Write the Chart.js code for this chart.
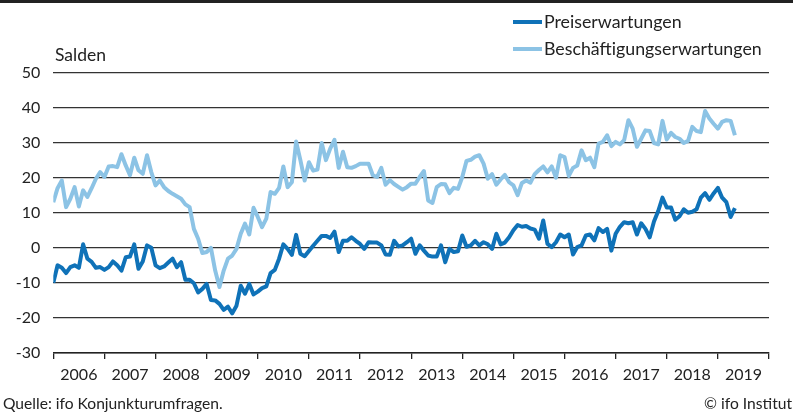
<!DOCTYPE html>
<html>
<head>
<meta charset="utf-8">
<script src="https://cdn.jsdelivr.net/npm/chart.js@4.4.1/dist/chart.umd.min.js"></script>
<style>
  html, body { margin: 0; padding: 0; background: #fff; }
  #wrap { width: 797px; height: 414px; }
</style>
</head>
<body>
<div id="wrap"><canvas id="grafik" width="797" height="414"></canvas></div>
<script>
// Monatswerte Jan 2006 - Mai 2019, Salden
const years = ['2006', '2007', '2008', '2009', '2010', '2011', '2012', '2013', '2014', '2015', '2016', '2017', '2018', '2019'];
const yTicks = [-30, -20, -10, 0, 10, 20, 30, 40, 50];

const preiserwartungen = [
  -10, -5, -5.7, -7.2, -5.5, -5, -5.7, 1, -3.1, -4, -5.7, -5.5,
  -6.3, -5.5, -3.9, -5, -6.5, -2.7, -2.5, 1, -6, -3.9, 0.7, 0,
  -5, -5.8, -5.3, -4.2, -3.1, -5.5, -4.1, -9.1, -9.1, -10.1, -12.7, -11.7,
  -10.3, -14.9, -15, -16, -17.7, -16.8, -18.7, -16.5, -10.8, -13.1, -10.3, -13.3,
  -12.5, -11.5, -11, -7.2, -6.3, -3.1, 1, -0.3, -2, 3.7, -1.7, -2.4,
  -0.9, 0.6, 2, 3.4, 3.4, 2.8, 4.6, -1.2, 2, 2, 3, 2,
  1.1, -0.3, 1.6, 1.5, 1.5, 0.7, -1.9, -2, 2, 0.4, 0.7, 1.6,
  2.6, -1.7, 0.7, -0.8, -2.2, -2.5, -2.5, 0.7, -4.1, -0.3, -1.2, -1,
  3.5, 0.3, 0.7, 2, 0.7, 1.6, 1, -0.3, 4, 1, 1.5, 3,
  5, 6.5, 6, 6.2, 5.5, 5.2, 2.6, 7.8, 1.1, 0.2, 1.6, 3.8,
  3, 3.8, -1.9, 0.2, 0.7, 3.5, 3.8, 2.1, 5.6, 4.5, 5.4, -0.8,
  4, 6, 7.3, 7, 7.3, 3.8, 7, 5.4, 3, 7.5, 10.5, 14.3,
  11.5, 11.5, 8, 9, 11, 10, 10.3, 11, 14.3, 15.6, 13.7, 15.5,
  17.1, 14.3, 13, 8.8, 11.3
];

const beschaeftigungserwartungen = [
  13, 17, 19.2, 11.6, 14, 17.3, 11.8, 16.4, 14.5, 17, 19.7, 21.6,
  20.2, 23.2, 23.3, 23, 26.7, 23.5, 20.7, 25.7, 22.1, 21.1, 26.4, 21.6,
  17.8, 19.2, 17.3, 16.2, 15.4, 14.7, 14, 12.4, 11.6, 5.4, 2.6, -1.5,
  -1.2, 0, -6.5, -11.2, -6.5, -3.1, -2.2, -0.3, 4, 6.9, 3.8, 11.4,
  8.8, 5.9, 8.3, 15.9, 15.4, 17.1, 23.2, 17.3, 18.7, 30.3, 25, 19.2,
  24.4, 22, 22.3, 29.9, 25, 28.3, 30.8, 22.8, 27.4, 23, 22.8, 23.3,
  24, 24, 24, 20.7, 20.2, 22.8, 18, 19.3, 18.2, 17.4, 16.6, 17.3,
  18.3, 18.3, 20.2, 21.9, 13.5, 12.8, 17.3, 18.2, 18.1, 15.6, 17.1, 16.8,
  20.2, 24.8, 25.1, 26, 26.4, 24, 19.7, 21, 18, 19.5, 20.8, 18.7,
  17.8, 15, 18.5, 19.2, 18.6, 21, 22.2, 23.2, 21.5, 23.2, 20, 26.4,
  25.9, 20.5, 22.8, 23.5, 27.8, 25, 25.7, 23, 29.7, 30.2, 32.1, 29,
  30.2, 29.5, 30.7, 36.4, 34, 28.8, 31.1, 33.5, 33.3, 29.9, 29.5, 36.2,
  30.9, 32.8, 31.6, 31.1, 29.9, 30.5, 34.5, 33.3, 33, 39, 36.9, 35.4,
  34, 35.9, 36.4, 36.2, 32.1
];

const dunkelblau = '#0f72b8';
const hellblau = '#8cc3e5';
const textFarbe = '#222';
const schrift = 'Lato, "Open Sans", sans-serif';

function punkte(werte) {
  return werte.map((v, i) => ({ x: i, y: v }));
}

// Texte, Legende und Linien ausserhalb des Diagramms
const rahmen = {
  id: 'rahmen',
  afterDraw(chart) {
    const ctx = chart.ctx;
    ctx.save();
    ctx.fillStyle = textFarbe;
    ctx.fillRect(0, 0, 793, 3);

    ctx.textBaseline = 'middle';
    ctx.font = '17.5px ' + schrift;
    ctx.fillText('Salden', 55, 55);

    ctx.font = '17.8px ' + schrift;
    chart.data.datasets.forEach((ds, k) => {
      const y = 22 + k * 27;
      ctx.strokeStyle = ds.borderColor;
      ctx.lineWidth = 4;
      ctx.beginPath();
      ctx.moveTo(513, y);
      ctx.lineTo(542, y);
      ctx.stroke();
      ctx.fillText(ds.label, 544, y);
    });

    ctx.font = '15.6px ' + schrift;
    ctx.fillText('Quelle: ifo Konjunkturumfragen.', 3, 404);
    ctx.textAlign = 'right';
    ctx.fillText('\u00A9 ifo Institut', 792, 404);
    ctx.restore();
  }
};

const ctx = document.getElementById('grafik').getContext('2d');
const chart = new Chart(ctx, {
  type: 'line',
  data: {
    datasets: [{
      label: 'Preiserwartungen',
      data: punkte(preiserwartungen),
      borderColor: dunkelblau,
      borderWidth: 4,
      pointRadius: 0,
      tension: 0,
      borderJoinStyle: 'round'
    }, {
      label: 'Beschäftigungserwartungen',
      data: punkte(beschaeftigungserwartungen),
      borderColor: hellblau,
      borderWidth: 4,
      pointRadius: 0,
      tension: 0,
      borderJoinStyle: 'round'
    }]
  },
  options: {
    responsive: false,
    animation: false,
    layout: { padding: { top: 72.5, right: 28, bottom: 21, left: 0 } },
    plugins: {
      legend: { display: false },
      tooltip: { enabled: false }
    },
    scales: {
      x: {
        type: 'linear',
        min: 0,
        max: years.length * 12,
        afterBuildTicks(scale) {
          const t = [];
          for (let k = 0; k <= years.length; k++) {
            t.push({ value: k * 12 });
            if (k < years.length) t.push({ value: k * 12 + 6 });
          }
          scale.ticks = t;
        },
        afterFit(scale) { scale.height = 40; },
        grid: {
          drawOnChartArea: false,
          drawTicks: true,
          tickLength: 6,
          lineWidth: 1.3,
          color: (c) => (c.tick && c.tick.value % 12 === 0) ? textFarbe : 'rgba(0,0,0,0)'
        },
        border: { display: true, color: textFarbe, width: 1.5 },
        ticks: {
          autoSkip: false,
          maxRotation: 0,
          padding: 6,
          color: textFarbe,
          font: { family: schrift, size: 16 },
          callback: (v) => (v % 12 === 6) ? years[(v - 6) / 12] : ''
        }
      },
      y: {
        min: yTicks[0],
        max: yTicks[yTicks.length - 1],
        afterBuildTicks(scale) {
          scale.ticks = yTicks.map(v => ({ value: v }));
        },
        afterFit(scale) { scale.width = 53.3; },
        grid: {
          drawTicks: false,
          color: '#333',
          lineWidth: 1.2
        },
        border: { display: false },
        ticks: {
          padding: 13,
          color: textFarbe,
          font: { family: schrift, size: 16 }
        }
      }
    }
  },
  plugins: [rahmen]
});
</script>
</body>
</html>
